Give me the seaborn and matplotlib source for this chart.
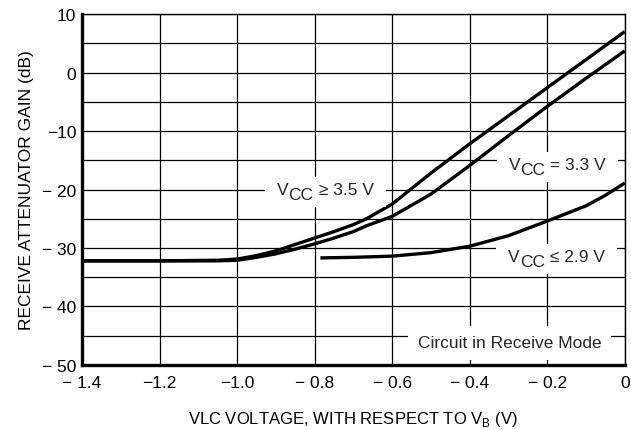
import numpy as np
import pandas as pd
import matplotlib
matplotlib.use("Agg")
import matplotlib.pyplot as plt
import matplotlib.patches as mpatches
from matplotlib.transforms import Bbox, IdentityTransform
import seaborn as sns

# 曲线数据
vlc_hi = [-1.4, -1.2, -1.05, -1.0, -0.95, -0.9, -0.85, -0.8, -0.75, -0.7, -0.666, -0.6,
          -0.5, -0.4, -0.3, -0.2, -0.1, 0.0]
gain_35 = [-32.2, -32.2, -32.1, -31.9, -31.3, -30.5, -29.4, -28.3, -27.2, -26.0, -25.0, -22.5,
           -17.2, -12.2, -7.4, -2.6, 2.2, 7.0]
gain_33 = [-32.2, -32.2, -32.2, -32.1, -31.6, -31.0, -30.2, -29.3, -28.3, -27.2, -26.2, -24.6,
           -20.8, -15.9, -10.8, -5.8, -1.0, 3.7]

vlc_lo = [-0.785, -0.7, -0.6, -0.5, -0.4, -0.3, -0.2, -0.1, -0.05, 0.0]
gain_29 = [-31.7, -31.6, -31.4, -30.8, -29.7, -27.9, -25.4, -22.8, -21.0, -18.9]

xticks = [-1.4, -1.2, -1.0, -0.8, -0.6, -0.4, -0.2, 0.0]
xtick_labels = ["\u2212 1.4", "\u22121.2", "\u22121.0", "\u2212 0.8", "\u2212 0.6", "\u2212 0.4", "\u2212 0.2", "0"]
yticks = [10, 0, -10, -20, -30, -40, -50]
ytick_labels = ["10", "0", "\u221210", "\u2212 20", "\u2212 30", "\u2212 40", "\u2212 50"]

sns.set_theme(style="white")
plt.rcParams["font.family"] = ["Liberation Sans", "DejaVu Sans"]
plt.rcParams["mathtext.fontset"] = "custom"
plt.rcParams["mathtext.rm"] = "Liberation Sans"

fig = plt.figure(figsize=(6.31, 4.31), dpi=100)
ax = fig.add_axes([0.130, 0.151, 0.860, 0.814])

# 网格
for x in np.arange(-1.4, 0.01, 0.2):
    ax.axvline(x, color="black", lw=0.9, zorder=1)
for y in range(-50, 11, 5):
    ax.axhline(y, color="black", lw=0.9, zorder=1)

df1 = pd.DataFrame({"x": vlc_hi, "y": gain_35})
df2 = pd.DataFrame({"x": vlc_hi, "y": gain_33})
df3 = pd.DataFrame({"x": vlc_lo, "y": gain_29})
for d in (df1, df2, df3):
    sns.lineplot(data=d, x="x", y="y", ax=ax, color="black", lw=2.4, sort=False,
                 estimator=None, zorder=3, solid_capstyle="butt")

ax.set_xlim(-1.4, 0)
ax.set_ylim(-50, 10)

fs = 12.5
groups = []


def vcc_label(x, y, rest):
    # V + 下标CC(同字号) + 其余文字
    drop = 3.6
    t1 = ax.text(x, y, "V", ha="left", va="baseline", fontsize=fs, zorder=4)
    t2 = ax.annotate("CC", xy=(1, 0), xycoords=t1, xytext=(0, -drop), textcoords="offset points",
                     ha="left", va="bottom", fontsize=fs, zorder=4)
    t3 = ax.annotate(rest, xy=(1, 0), xycoords=t2, xytext=(0, drop), textcoords="offset points",
                     ha="left", va="bottom", fontsize=fs, zorder=4)
    groups.append([t1, t2, t3])


vcc_label(-0.897, -20.8, " \u2265 3.5 V")
vcc_label(-0.299, -16.5, " = 3.3 V")
vcc_label(-0.301, -32.2, " \u2264 2.9 V")
ax.text(-0.533, -47.0, "Circuit in Receive Mode", ha="left", va="baseline", fontsize=fs,
        bbox=dict(facecolor="white", edgecolor="none", pad=7), zorder=4)

ax.set_xticks(xticks)
ax.set_xticklabels(xtick_labels)
ax.set_yticks(yticks)
ax.set_yticklabels(ytick_labels)
ax.tick_params(length=0, labelsize=12.5, pad=4, colors="black")
ax.tick_params(axis="x", pad=7)

ax.set_xlabel(r"VLC VOLTAGE, WITH RESPECT TO V$_\mathregular{B}$ (V)", fontsize=12, labelpad=14, color="black")
ax.set_ylabel("RECEIVE ATTENUATOR GAIN (dB)", fontsize=12.5, labelpad=6, color="black")

for s in ["top", "right"]:
    ax.spines[s].set_linewidth(1.0)
    ax.spines[s].set_color("black")
for s in ["left", "bottom"]:
    ax.spines[s].set_linewidth(2.4)
    ax.spines[s].set_color("black")
    ax.spines[s].set_zorder(5)

# 白色背景框 (遮住网格线)
fig.canvas.draw()
r = fig.canvas.get_renderer()
for g in groups:
    bb = Bbox.union([t.get_window_extent(r) for t in g])
    rect = mpatches.Rectangle((bb.x0 - 12, bb.y0 - 5), bb.width + 24, bb.height + 10,
                              transform=IdentityTransform(), facecolor="white",
                              edgecolor="none", zorder=3.5)
    ax.add_patch(rect)

fig.savefig("out.png", dpi=100)
